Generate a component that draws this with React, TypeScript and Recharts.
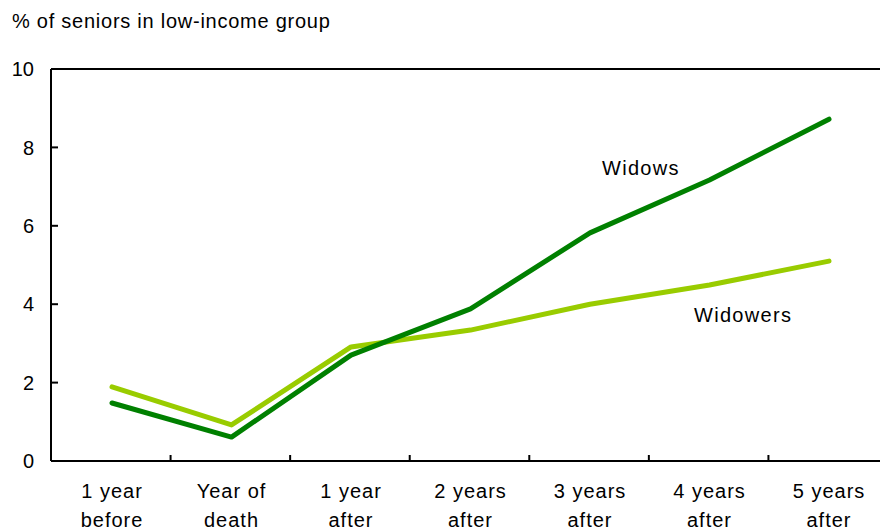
import { LineChart, Line, XAxis, YAxis, ReferenceLine, ReferenceDot } from 'recharts';

const periods = [
  '1 year before',
  'Year of death',
  '1 year after',
  '2 years after',
  '3 years after',
  '4 years after',
  '5 years after',
];
const widows = [1.48, 0.61, 2.7, 3.88, 5.82, 7.17, 8.72];
const widowers = [1.89, 0.92, 2.91, 3.34, 4.0, 4.49, 5.1];
const yTicks = [0, 2, 4, 6, 8, 10];
// boundaries between neighbouring periods, in period-index units
const boundaryTicks = [0.5, 1.5, 2.5, 3.5, 4.5, 5.5];

const data = periods.map((period, i) => ({
  period,
  widows: widows[i],
  widowers: widowers[i],
}));

const FONT = '"Liberation Sans", Arial, sans-serif';
const LABEL_GAP = 17;
const MARK_LEN = 6;

// two-line category label, split at the last space
function PeriodTick({ x, y, payload }: any) {
  const label: string = payload.value;
  const cut = label.lastIndexOf(' ');
  return (
    <text
      x={x}
      y={y}
      textAnchor="middle"
      fontFamily={FONT}
      fontSize={20}
      letterSpacing={1}
      fill="#000"
    >
      <tspan x={x} dy={37}>{label.slice(0, cut)}</tspan>
      <tspan x={x} dy={29}>{label.slice(cut + 1)}</tspan>
    </text>
  );
}

// value label plus a short mark pointing into the plot
function ValueTick({ x, y, payload }: any) {
  return (
    <g>
      <path
        d={`M${x + LABEL_GAP},${y}h${MARK_LEN + 1}`}
        stroke="#000"
        strokeWidth={2}
        fill="none"
      />
      <text x={x} y={y} dy="0.355em" textAnchor="end" fontFamily={FONT} fontSize={20} fill="#000">
        {payload.value}
      </text>
    </g>
  );
}

// tick marks only, no text
const NoLabel = () => <g />;

export default function App() {
  return (
    <div
      style={{
        position: 'absolute',
        left: 0,
        top: 0,
        width: 880,
        height: 531,
        overflow: 'hidden',
        background: '#fff',
        fontFamily: FONT,
      }}
    >
      <div
        style={{
          position: 'absolute',
          left: 12,
          top: 11,
          fontSize: 20,
          lineHeight: '20px',
          letterSpacing: 0.75,
          color: '#000',
          whiteSpace: 'nowrap',
        }}
      >
        % of seniors in low-income group
      </div>
      <LineChart
        width={900}
        height={545}
        data={data}
        margin={{ top: 69, right: 12, left: 0, bottom: 0 }}
      >
        {/* boundary tick marks between periods, drawn inside the plot */}
        <XAxis
          xAxisId={0}
          type="number"
          dataKey={(row: any) => periods.indexOf(row.period)}
          domain={[-0.5, 6.5]}
          ticks={boundaryTicks}
          interval={0}
          allowDataOverflow
          mirror
          height={1}
          tick={NoLabel}
          tickSize={MARK_LEN}
          axisLine={{ stroke: '#000', strokeWidth: 2 }}
          tickLine={{ stroke: '#000', strokeWidth: 2 }}
        />
        <XAxis
          xAxisId="cat"
          dataKey="period"
          interval={0}
          padding={{ left: 61, right: 59 }}
          height={84}
          axisLine={false}
          tickLine={false}
          tickSize={0}
          tickMargin={0}
          tick={<PeriodTick />}
        />
        <YAxis
          width={51}
          domain={[0, 10]}
          ticks={yTicks}
          interval={0}
          tickSize={0}
          tickMargin={LABEL_GAP}
          axisLine={{ stroke: '#000', strokeWidth: 2 }}
          tickLine={false}
          tick={<ValueTick />}
        />
        <ReferenceLine y={10} stroke="#000" strokeWidth={2} />
        <Line
          xAxisId="cat"
          type="linear"
          dataKey="widowers"
          stroke="#99CC00"
          strokeWidth={5}
          strokeLinecap="round"
          strokeLinejoin="round"
          dot={false}
          activeDot={false}
          isAnimationActive={false}
        />
        <Line
          xAxisId="cat"
          type="linear"
          dataKey="widows"
          stroke="#008000"
          strokeWidth={5}
          strokeLinecap="round"
          strokeLinejoin="round"
          dot={false}
          activeDot={false}
          isAnimationActive={false}
        />
        <ReferenceDot
          xAxisId="cat"
          x="3 years after"
          y={7.47}
          r={1}
          fill="none"
          stroke="none"
          label={{
            value: 'Widows',
            position: 'right',
            offset: 11,
            fontSize: 20,
            letterSpacing: 1.3,
            fill: '#000',
            fontFamily: FONT,
          }}
        />
        <ReferenceDot
          xAxisId="cat"
          x="3 years after"
          y={3.72}
          r={1}
          fill="none"
          stroke="none"
          label={{
            value: 'Widowers',
            position: 'right',
            offset: 103,
            fontSize: 20,
            letterSpacing: 1.3,
            fill: '#000',
            fontFamily: FONT,
          }}
        />
      </LineChart>
    </div>
  );
}
